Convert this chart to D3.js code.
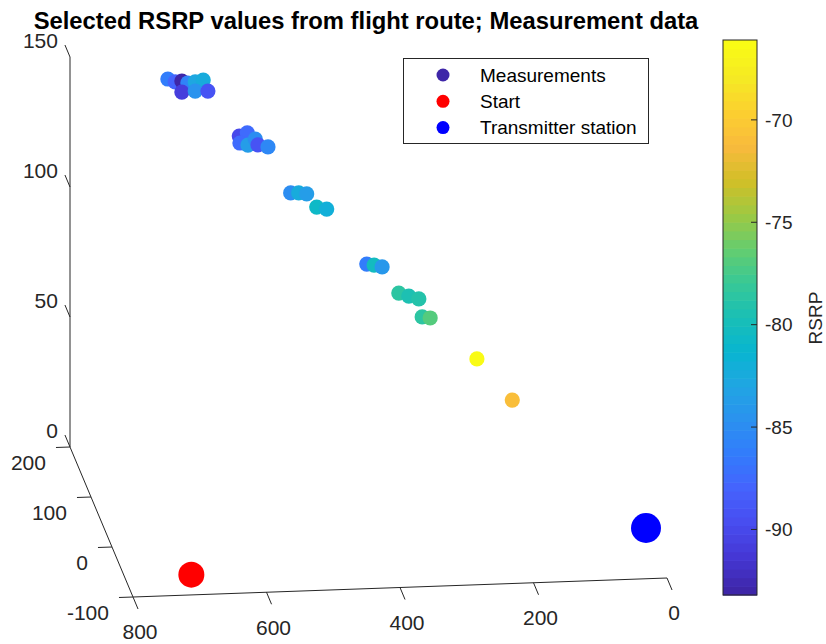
<!DOCTYPE html>
<html lang="en">
<head>
    <meta charset="UTF-8">
    <title>Selected RSRP values from flight route</title>
    <style>
        body {
            margin: 0;
            background-color: #ffffff;
            font-family: "Liberation Sans", Arial, Helvetica, sans-serif;
        }
        .axis line, .axis path {
            fill: none;
            stroke: #262626;
            stroke-width: 1;
        }
        .tick-label {
            font-size: 21px;
            fill: #262626;
        }
        .cb-label {
            font-size: 19px;
            fill: #262626;
        }
    </style>
    <script src="https://cdn.jsdelivr.net/npm/d3@7"></script>
</head>
<body>
<div id="chart"></div>

<script>
    // measurement points (x, y, z) and their RSRP
    var measX = [666, 655, 645, 636, 625, 613, 645, 625, 606,
                 559, 547, 558, 546, 535, 531, 516,
                 482, 470, 458, 443, 428,
                 368, 357, 345, 320, 305, 290, 285, 273, 203, 150];
    var measY = [160, 160, 160, 160, 160, 160, 160, 160, 160,
                 160, 160, 160, 160, 160, 160, 160,
                 160, 160, 160, 160, 160,
                 160, 160, 160, 160, 160, 160, 160, 160, 160, 160];
    var measZ = [148.0, 146.8, 147.0, 146.2, 146.5, 147.1, 142.8, 143.0, 142.8,
                 125.1, 126.2, 122.4, 121.5, 123.7, 121.4, 120.5,
                 102.5, 102.4, 101.9, 96.7, 95.8,
                 74.1, 73.6, 72.8, 62.5, 61.2, 60.0, 53.0, 52.5, 36.1, 19.8];
    var measRSRP = [-86.2, -88.0, -93.2, -86.0, -82.9, -82.6, -91.0, -84.6, -89.0,
                    -90.0, -87.5, -87.6, -83.5, -85.0, -89.3, -85.3,
                    -84.8, -82.6, -83.8, -80.8, -81.8,
                    -86.3, -80.4, -83.9, -78.8, -79.3, -79.1, -78.4, -76.9, -66.1, -70.8];

    var startPoint = [700, -60, 0];
    var stationPoint = [0, 0, 0];

    var xTicks = [0, 200, 400, 600, 800];
    var yTicks = [-100, 0, 100, 200];
    var zTicks = [0, 50, 100, 150];
    var cbTicks = [-90, -85, -80, -75, -70];
    var legendLabels = ["Measurements", "Start", "Transmitter station"];

    // parula colormap (every 4th entry of the 64 colour map)
    var parula = ["#3e26a8", "#4537d5", "#484df0", "#4563fd", "#327cfc", "#2b91ef",
                  "#20a5e3", "#08b5d0", "#19bfb6", "#37c897", "#64cd6f", "#9dc943",
                  "#d1bf27", "#f8ba3d", "#fccf30", "#f5e924", "#f9fb15"];

    var width = 826, height = 644;

    var svg = d3.select("#chart")
        .append("svg")
        .attr("width", width)
        .attr("height", height);

    // normalised axis scales, combined into a fixed 3D view
    var xS = d3.scaleLinear().domain([0, 800]).range([0, 1]);
    var yS = d3.scaleLinear().domain([-100, 200]).range([0, 1]);
    var zS = d3.scaleLinear().domain([0, 150]).range([0, 1]);
    var origin = [667, 578];           // screen point of (0, -100, 0)
    var ex = [-534, 19], ey = [-63, -150], ez = [0, -390];

    function proj(x, y, z) {
        var u = xS(x), v = yS(y), w = zS(z);
        return [origin[0] + u * ex[0] + v * ey[0] + w * ez[0],
                origin[1] + u * ex[1] + v * ey[1] + w * ez[1]];
    }

    var interp = d3.piecewise(d3.interpolateRgb, parula);
    var cext = d3.extent(measRSRP);
    function cmap(val) {
        // 64 discrete colours like matlab
        var i = Math.floor((val - cext[0]) / (cext[1] - cext[0]) * 64);
        i = Math.max(0, Math.min(63, i));
        return interp(i / 63);
    }

    // title
    svg.append("text")
        .attr("x", 366)
        .attr("y", 29)
        .attr("text-anchor", "middle")
        .style("font-size", "23.8px")
        .style("font-weight", "bold")
        .style("fill", "#000")
        .text("Selected RSRP values from flight route; Measurement data");

    var axes = svg.append("g").attr("class", "axis");

    function line(g, a, b) {
        g.append("line")
            .attr("x1", a[0]).attr("y1", a[1])
            .attr("x2", b[0]).attr("y2", b[1]);
    }

    // z axis
    line(axes, proj(800, 200, 0), proj(800, 200, 150));
    zTicks.forEach(function (t) {
        var p = proj(800, 200, t), q = proj(800, 224, t);
        line(axes, p, q);
        svg.append("text").attr("class", "tick-label")
            .attr("x", q[0] - 7).attr("y", q[1] - 4)
            .attr("dy", "0.35em")
            .attr("text-anchor", "end")
            .text(t);
    });

    // y axis
    line(axes, proj(800, 200, 0), proj(800, -100, 0));
    yTicks.forEach(function (t) {
        var p = proj(800, t, 0), q = proj(821, t, 0);
        line(axes, p, q);
        svg.append("text").attr("class", "tick-label")
            .attr("x", q[0] - 10).attr("y", q[1] + 15)
            .attr("dy", "0.35em")
            .attr("text-anchor", "end")
            .text(t);
    });

    // x axis
    line(axes, proj(800, -100, 0), proj(0, -100, 0));
    xTicks.forEach(function (t) {
        var p = proj(t, -100, 0), q = proj(t, -124, 0);
        line(axes, p, q);
        svg.append("text").attr("class", "tick-label")
            .attr("x", q[0] + 2).attr("y", q[1] + 23)
            .attr("dy", "0.35em")
            .attr("text-anchor", "middle")
            .text(t);
    });

    // measurements
    var pts = measX.map(function (d, i) {
        return {x: d, y: measY[i], z: measZ[i], v: measRSRP[i]};
    });
    svg.append("g")
        .selectAll("circle")
        .data(pts)
        .enter().append("circle")
        .attr("cx", function (d) { return proj(d.x, d.y, d.z)[0]; })
        .attr("cy", function (d) { return proj(d.x, d.y, d.z)[1]; })
        .attr("r", 7.6)
        .style("fill", function (d) { return cmap(d.v); });

    var ps = proj(startPoint[0], startPoint[1], startPoint[2]);
    svg.append("circle").attr("cx", ps[0]).attr("cy", ps[1]).attr("r", 13).style("fill", "#ff0000");
    var pt = proj(stationPoint[0], stationPoint[1], stationPoint[2]);
    svg.append("circle").attr("cx", pt[0]).attr("cy", pt[1]).attr("r", 15).style("fill", "#0000ff");

    // legend
    var leg = svg.append("g");
    leg.append("rect")
        .attr("x", 403.5).attr("y", 58.5)
        .attr("width", 245).attr("height", 85)
        .style("fill", "#fff")
        .style("stroke", "#262626");
    var legColors = [parula[0], "#ff0000", "#0000ff"];
    legendLabels.forEach(function (l, i) {
        var yy = 75 + i * 26.3;
        leg.append("circle").attr("cx", 443).attr("cy", yy).attr("r", 6.5).style("fill", legColors[i]);
        leg.append("text").attr("class", "cb-label")
            .attr("x", 480).attr("y", yy).attr("dy", "0.35em")
            .style("fill", "#000")
            .text(l);
    });

    // colorbar
    var cb = d3.scaleLinear().domain(cext).range([595, 40]);
    var bands = d3.range(64);
    svg.append("g")
        .selectAll("rect")
        .data(bands)
        .enter().append("rect")
        .attr("x", 723)
        .attr("width", 34)
        .attr("y", function (i) { return cb(cext[0] + (i + 1) / 64 * (cext[1] - cext[0])); })
        .attr("height", (595 - 40) / 64 + 0.6)
        .style("fill", function (i) { return interp(i / 63); });
    svg.append("rect")
        .attr("x", 723).attr("y", 40)
        .attr("width", 34).attr("height", 555)
        .style("fill", "none")
        .style("stroke", "#262626");
    var cbAxis = svg.append("g").attr("class", "axis");
    cbTicks.forEach(function (t) {
        line(cbAxis, [757, cb(t)], [751, cb(t)]);
        svg.append("text").attr("class", "cb-label")
            .attr("x", 765).attr("y", cb(t)).attr("dy", "0.35em")
            .text(t);
    });
    svg.append("text").attr("class", "cb-label")
        .attr("transform", "translate(815,318) rotate(-90)")
        .attr("text-anchor", "middle")
        .attr("dy", "0.35em")
        .text("RSRP");
</script>
</body>
</html>
